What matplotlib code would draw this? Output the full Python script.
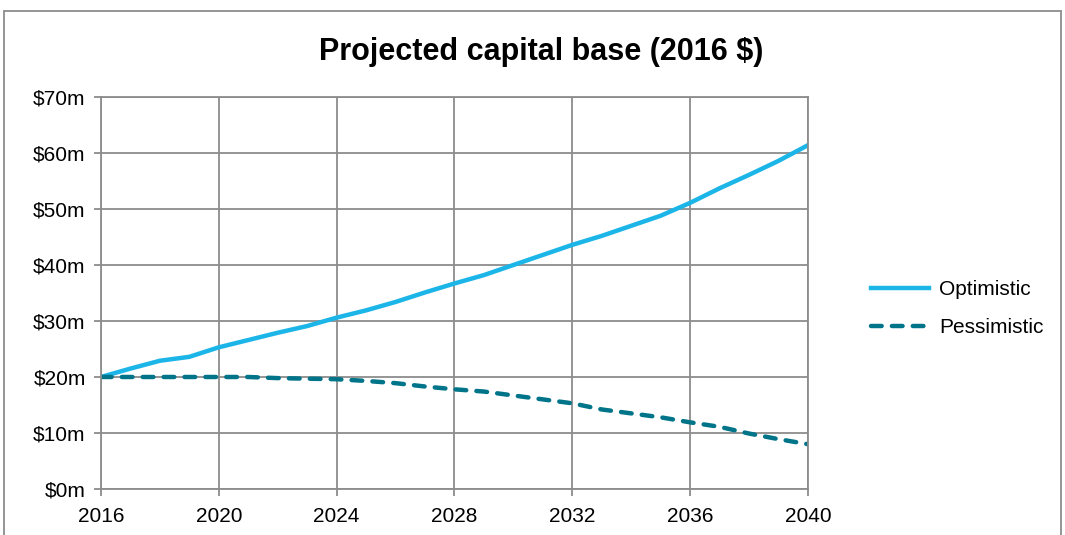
import matplotlib.pyplot as plt
from matplotlib.patches import Rectangle

plt.rcParams['font.family'] = ['Liberation Sans', 'DejaVu Sans']

# Исходные данные
years = list(range(2016, 2041))
optimistic = [20.0, 21.5, 22.9, 23.6, 25.3, 26.6, 27.9, 29.1, 30.6, 31.9, 33.4, 35.1,
              36.7, 38.2, 40.0, 41.8, 43.6, 45.2, 47.0, 48.8, 51.1, 53.7, 56.1, 58.6, 61.4]
pessimistic = [20.0, 20.0, 20.0, 20.0, 20.0, 20.0, 19.8, 19.7, 19.6, 19.3, 18.9, 18.3,
               17.8, 17.4, 16.7, 16.0, 15.3, 14.2, 13.5, 12.8, 11.9, 11.1, 9.9, 8.9, 8.0]
y_ticks = list(range(0, 71, 10))
x_ticks = list(range(2016, 2041, 4))

fig = plt.figure(figsize=(10.65, 5.35), dpi=100)
ax = fig.add_axes([0.0948, 0.086, 0.6639, 0.7327])

ax.plot(years, optimistic, color='#1CB5E8', lw=3.2, label='Optimistic')
ax.plot(years, pessimistic, color='#007489', lw=3.2, ls=(0, (2.4, 2.3)),
        dash_capstyle='round', label='Pessimistic')

ax.set_xlim(2016, 2040)
ax.set_ylim(0, 70)
ax.set_xticks(x_ticks)
ax.set_yticks(y_ticks)
ax.set_yticklabels(['$%dm' % v for v in y_ticks])
ax.grid(color='#8C8C8C', lw=1.3)
ax.set_axisbelow(True)
for s in ax.spines.values():
    s.set_color('#8C8C8C')
    s.set_linewidth(1.3)
ax.tick_params(colors='#8C8C8C', labelcolor='black', labelsize=15, length=5, width=1.3)
ax.tick_params(axis='x', pad=8)
ax.tick_params(axis='y', pad=6)

fig.text(0.508, 0.903, 'Projected capital base (2016 $)', ha='center', va='center',
         fontsize=22, fontweight='bold')

ax.legend(loc='center left', bbox_to_anchor=(1.063, 0.46), frameon=False, fontsize=15,
          handlelength=2.75, labelspacing=0.9, handletextpad=0.5)

fig.patches.append(Rectangle((4 / 1065, -0.1), 1057 / 1065, 1.08, transform=fig.transFigure,
                             fill=False, edgecolor='#8C8C8C', lw=1.3))

plt.savefig('out.png', dpi=100)
